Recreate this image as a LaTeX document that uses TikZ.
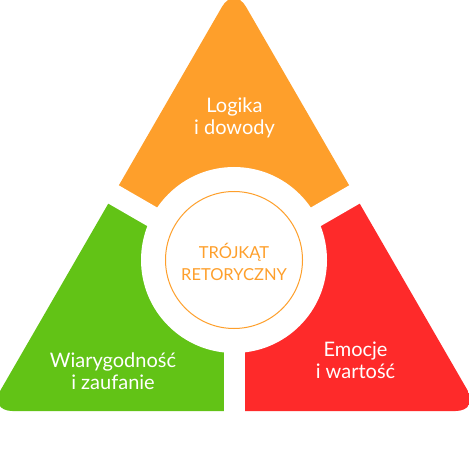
\documentclass[tikz,border=0pt]{standalone}
\usepackage{fontspec}
\setmainfont{Lato}
\usetikzlibrary{calc}
\definecolor{cOrange}{HTML}{FE9F2B}
\definecolor{cGreen}{HTML}{62C316}
\definecolor{cRed}{HTML}{FE2A2A}
\begin{document}
\begin{tikzpicture}[x=1pt,y=1pt,
  label/.style={text=white,font=\fontsize{20}{22}\selectfont,align=center,inner sep=0pt},
  center label/.style={text=cOrange,font=\fontsize{16.5}{22}\selectfont,align=center,inner sep=0pt},
  gap/.style={white,line width=21pt}]
\useasboundingbox (0,0) rectangle (468,-470);
\coordinate (C) at (234,-264);
\coordinate (O) at (234,-260);
\begin{scope}
  \clip[rounded corners=24pt] (-11.5,-411) -- (234,14) -- (479.5,-411) -- cycle;
  \fill[cOrange] (C) -- ++(150:600) -- (234,200) -- ($(C)+(30:600)$) -- cycle;
  \fill[cGreen] (C) -- ++(150:600) -- (-300,-600) -- (234,-600) -- cycle;
  \fill[cRed] (C) -- ++(30:600) -- (800,-600) -- (234,-600) -- cycle;
\end{scope}
\draw[gap] (C) -- ++(150:300);
\draw[gap] (C) -- ++(30:300);
\draw[gap] (C) -- ++(270:300);
\fill[white] (O) circle[radius=93];
\draw[cOrange,line width=1pt] (O) circle[radius=68.5];
\node[center label] (ctext) at (234,-262) {TRÓJKĄT\\RETORYCZNY};
\node[label] (logika) at (234.5,-118) {Logika\\i dowody};
\node[label] (wiary) at (113,-371) {Wiarygodność\\i zaufanie};
\node[label] (emocje) at (355.5,-360) {Emocje\\i wartość};
\end{tikzpicture}
\end{document}
